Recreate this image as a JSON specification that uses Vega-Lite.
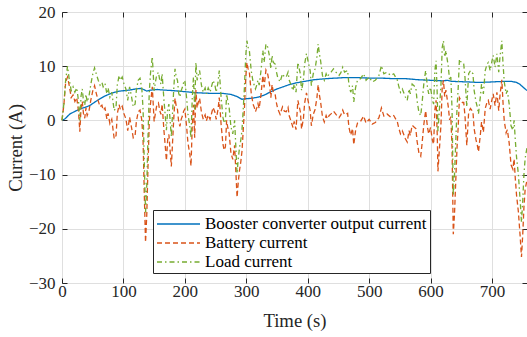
{
"$schema": "https://vega.github.io/schema/vega-lite/v6.json",
"width": 465, "height": 271,
"autosize": {"type": "none"},
"padding": {"left": 62, "top": 12, "right": 0, "bottom": 54},
"config": {
  "view": {"stroke": "#262626", "strokeWidth": 1},
  "font": "Liberation Serif",
  "axis": {"domain": false, "labelFlush": false, "gridColor": "#dfdfdf", "gridWidth": 1, "tickColor": "#262626", "tickSize": -5, "labelFont": "Liberation Serif", "labelFontSize": 17, "labelColor": "#262626", "titleFont": "Liberation Serif", "titleFontSize": 18.7, "titleFontWeight": "normal", "titleColor": "#262626"},
  "legend": {"orient": "none", "legendX": 91, "legendY": 198, "direction": "vertical", "fillColor": "white", "strokeColor": "#262626", "padding": 3, "symbolType": "M-1,0H3.3", "symbolSize": 400, "symbolStrokeWidth": 1.5, "labelFont": "Liberation Serif", "labelFontSize": 17, "labelColor": "black", "labelOffset": 27, "rowPadding": 0, "labelLimit": 0}
},
"layer": [
{
"data": {"values": [
{"t":0,"s":"b","v":0},{"t":5,"s":"b","v":0.3},{"t":13,"s":"b","v":1.2},{"t":20,"s":"b","v":1.6},{"t":29,"s":"b","v":2.1},{"t":40,"s":"b","v":2.5},{"t":46,"s":"b","v":2.8},{"t":55,"s":"b","v":3.5},{"t":62,"s":"b","v":4.0},{"t":70,"s":"b","v":4.5},{"t":78,"s":"b","v":4.9},{"t":86,"s":"b","v":5.2},{"t":94,"s":"b","v":5.4},{"t":110,"s":"b","v":5.6},{"t":120,"s":"b","v":5.8},{"t":128,"s":"b","v":5.9},{"t":133,"s":"b","v":5.7},{"t":138,"s":"b","v":5.4},{"t":145,"s":"b","v":5.6},{"t":155,"s":"b","v":5.7},{"t":165,"s":"b","v":5.6},{"t":180,"s":"b","v":5.5},{"t":200,"s":"b","v":5.3},{"t":220,"s":"b","v":5.1},{"t":240,"s":"b","v":5.0},{"t":260,"s":"b","v":5.0},{"t":275,"s":"b","v":4.8},{"t":285,"s":"b","v":4.4},{"t":293,"s":"b","v":3.9},{"t":300,"s":"b","v":4.0},{"t":310,"s":"b","v":4.1},{"t":320,"s":"b","v":4.3},{"t":330,"s":"b","v":4.7},{"t":340,"s":"b","v":5.3},{"t":350,"s":"b","v":5.8},{"t":360,"s":"b","v":6.2},{"t":370,"s":"b","v":6.6},{"t":380,"s":"b","v":6.9},{"t":390,"s":"b","v":7.1},{"t":400,"s":"b","v":7.3},{"t":410,"s":"b","v":7.5},{"t":420,"s":"b","v":7.6},{"t":430,"s":"b","v":7.7},{"t":445,"s":"b","v":7.8},{"t":460,"s":"b","v":7.9},{"t":480,"s":"b","v":7.9},{"t":500,"s":"b","v":7.8},{"t":520,"s":"b","v":7.8},{"t":540,"s":"b","v":7.7},{"t":560,"s":"b","v":7.7},{"t":580,"s":"b","v":7.5},{"t":600,"s":"b","v":7.4},{"t":620,"s":"b","v":7.3},{"t":628,"s":"b","v":7.4},{"t":635,"s":"b","v":7.2},{"t":660,"s":"b","v":7.1},{"t":680,"s":"b","v":7.0},{"t":700,"s":"b","v":7.1},{"t":720,"s":"b","v":7.2},{"t":732,"s":"b","v":7.2},{"t":740,"s":"b","v":7.0},{"t":745,"s":"b","v":6.7},{"t":750,"s":"b","v":6.2},{"t":757,"s":"b","v":5.5},
{"t":0,"s":"i","v":0},{"t":3,"s":"i","v":2.8},{"t":6,"s":"i","v":7.1},{"t":9,"s":"i","v":8},{"t":12,"s":"i","v":6.3},{"t":15,"s":"i","v":4.2},{"t":18,"s":"i","v":4.7},{"t":21,"s":"i","v":3.5},{"t":24,"s":"i","v":4.2},{"t":27,"s":"i","v":1.5},{"t":29,"s":"i","v":-2.1},{"t":31,"s":"i","v":2.3},{"t":33,"s":"i","v":3.5},{"t":35,"s":"i","v":1.2},{"t":37,"s":"i","v":0.4},{"t":39,"s":"i","v":2.3},{"t":41,"s":"i","v":0.9},{"t":44,"s":"i","v":1.8},{"t":47,"s":"i","v":3.8},{"t":50,"s":"i","v":5.4},{"t":53,"s":"i","v":6.4},{"t":56,"s":"i","v":4.9},{"t":59,"s":"i","v":3.6},{"t":62,"s":"i","v":2.5},{"t":65,"s":"i","v":2.8},{"t":67,"s":"i","v":1.9},{"t":70,"s":"i","v":2.3},{"t":73,"s":"i","v":0.3},{"t":75,"s":"i","v":1.3},{"t":78,"s":"i","v":-0.6},{"t":81,"s":"i","v":0.2},{"t":85,"s":"i","v":-3.4},{"t":88,"s":"i","v":-2.8},{"t":90,"s":"i","v":1.2},{"t":93,"s":"i","v":2.9},{"t":95,"s":"i","v":2},{"t":98,"s":"i","v":2.6},{"t":101,"s":"i","v":1.2},{"t":104,"s":"i","v":0.3},{"t":107,"s":"i","v":-1.9},{"t":110,"s":"i","v":0.6},{"t":113,"s":"i","v":-1.2},{"t":116,"s":"i","v":-3.2},{"t":119,"s":"i","v":-2.8},{"t":121,"s":"i","v":-0.3},{"t":124,"s":"i","v":1.6},{"t":127,"s":"i","v":1.9},{"t":130,"s":"i","v":0},{"t":132,"s":"i","v":-3.8},{"t":134,"s":"i","v":-13.7},{"t":136,"s":"i","v":-22.5},{"t":138,"s":"i","v":-17.4},{"t":140,"s":"i","v":-8.5},{"t":142,"s":"i","v":-0.5},{"t":144,"s":"i","v":3},{"t":147,"s":"i","v":6.2},{"t":150,"s":"i","v":-0.2},{"t":152,"s":"i","v":1.3},{"t":154,"s":"i","v":2.6},{"t":157,"s":"i","v":3.2},{"t":159,"s":"i","v":1.9},{"t":161,"s":"i","v":1.1},{"t":163,"s":"i","v":3},{"t":166,"s":"i","v":-1.9},{"t":168,"s":"i","v":-4.6},{"t":170,"s":"i","v":-7.4},{"t":172,"s":"i","v":-3.6},{"t":174,"s":"i","v":-2.6},{"t":176,"s":"i","v":-5.5},{"t":178,"s":"i","v":-8.5},{"t":180,"s":"i","v":-4},{"t":182,"s":"i","v":0.5},{"t":184,"s":"i","v":4.1},{"t":186,"s":"i","v":2.6},{"t":188,"s":"i","v":2},{"t":190,"s":"i","v":-0.4},{"t":192,"s":"i","v":-1.1},{"t":194,"s":"i","v":0.2},{"t":196,"s":"i","v":0.8},{"t":198,"s":"i","v":1.7},{"t":200,"s":"i","v":2.1},{"t":203,"s":"i","v":-1.3},{"t":205,"s":"i","v":-4.1},{"t":208,"s":"i","v":-6.2},{"t":210,"s":"i","v":-8.4},{"t":212,"s":"i","v":-1.2},{"t":214,"s":"i","v":2.9},{"t":216,"s":"i","v":-3.2},{"t":218,"s":"i","v":5.6},{"t":220,"s":"i","v":2.3},{"t":222,"s":"i","v":3.4},{"t":224,"s":"i","v":4.1},{"t":227,"s":"i","v":1.5},{"t":230,"s":"i","v":0.2},{"t":233,"s":"i","v":1},{"t":235,"s":"i","v":-0.1},{"t":238,"s":"i","v":1},{"t":241,"s":"i","v":0.2},{"t":244,"s":"i","v":1.5},{"t":246,"s":"i","v":2.4},{"t":249,"s":"i","v":1.5},{"t":251,"s":"i","v":0.2},{"t":254,"s":"i","v":2},{"t":256,"s":"i","v":4.2},{"t":259,"s":"i","v":-0.7},{"t":262,"s":"i","v":-4.4},{"t":264,"s":"i","v":-5.5},{"t":266,"s":"i","v":-4.9},{"t":268,"s":"i","v":0},{"t":270,"s":"i","v":-1.4},{"t":272,"s":"i","v":-2.3},{"t":275,"s":"i","v":-6},{"t":278,"s":"i","v":-7.2},{"t":281,"s":"i","v":-4.6},{"t":283,"s":"i","v":-9.4},{"t":285,"s":"i","v":-14.2},{"t":287,"s":"i","v":-11.3},{"t":289,"s":"i","v":-9.2},{"t":291,"s":"i","v":-7.7},{"t":293,"s":"i","v":-5.7},{"t":295,"s":"i","v":-1.9},{"t":297,"s":"i","v":2.2},{"t":299,"s":"i","v":7.7},{"t":301,"s":"i","v":10.7},{"t":303,"s":"i","v":9.5},{"t":305,"s":"i","v":8.9},{"t":308,"s":"i","v":5.1},{"t":311,"s":"i","v":3},{"t":313,"s":"i","v":2.4},{"t":315,"s":"i","v":1.6},{"t":317,"s":"i","v":2.3},{"t":319,"s":"i","v":3.1},{"t":321,"s":"i","v":2.2},{"t":324,"s":"i","v":4.8},{"t":327,"s":"i","v":8.3},{"t":329,"s":"i","v":6.1},{"t":332,"s":"i","v":9.3},{"t":335,"s":"i","v":8.5},{"t":338,"s":"i","v":6.5},{"t":340,"s":"i","v":4.2},{"t":342,"s":"i","v":6.6},{"t":344,"s":"i","v":5.2},{"t":347,"s":"i","v":4.8},{"t":349,"s":"i","v":3.3},{"t":351,"s":"i","v":2.2},{"t":355,"s":"i","v":1.1},{"t":359,"s":"i","v":2.5},{"t":362,"s":"i","v":1.7},{"t":365,"s":"i","v":1.6},{"t":368,"s":"i","v":2.4},{"t":370,"s":"i","v":0.8},{"t":373,"s":"i","v":-0.2},{"t":376,"s":"i","v":-1.3},{"t":378,"s":"i","v":-0.2},{"t":381,"s":"i","v":-1.7},{"t":384,"s":"i","v":3.7},{"t":388,"s":"i","v":1.6},{"t":390,"s":"i","v":-1.6},{"t":393,"s":"i","v":0.3},{"t":395,"s":"i","v":3.2},{"t":398,"s":"i","v":5.1},{"t":401,"s":"i","v":3.4},{"t":404,"s":"i","v":1.8},{"t":406,"s":"i","v":-1},{"t":409,"s":"i","v":1.1},{"t":412,"s":"i","v":2},{"t":415,"s":"i","v":4.2},{"t":417,"s":"i","v":6.6},{"t":419,"s":"i","v":4.7},{"t":421,"s":"i","v":3.4},{"t":424,"s":"i","v":0.7},{"t":427,"s":"i","v":-0.3},{"t":430,"s":"i","v":0.9},{"t":432,"s":"i","v":0.3},{"t":435,"s":"i","v":0.9},{"t":438,"s":"i","v":1.2},{"t":442,"s":"i","v":1.7},{"t":446,"s":"i","v":1.1},{"t":451,"s":"i","v":0.5},{"t":454,"s":"i","v":1},{"t":457,"s":"i","v":1.9},{"t":460,"s":"i","v":1},{"t":465,"s":"i","v":1.3},{"t":467,"s":"i","v":-1.2},{"t":470,"s":"i","v":-2.7},{"t":473,"s":"i","v":-1.5},{"t":475,"s":"i","v":-4.5},{"t":478,"s":"i","v":-1.8},{"t":481,"s":"i","v":-0.5},{"t":486,"s":"i","v":-0.2},{"t":491,"s":"i","v":0.8},{"t":495,"s":"i","v":-0.5},{"t":500,"s":"i","v":0.2},{"t":505,"s":"i","v":-0.7},{"t":510,"s":"i","v":-0.4},{"t":516,"s":"i","v":0.5},{"t":520,"s":"i","v":2.3},{"t":524,"s":"i","v":0.8},{"t":529,"s":"i","v":1.2},{"t":535,"s":"i","v":0.6},{"t":540,"s":"i","v":0.9},{"t":546,"s":"i","v":-0.3},{"t":548,"s":"i","v":-1.3},{"t":551,"s":"i","v":-2.5},{"t":554,"s":"i","v":-1.9},{"t":557,"s":"i","v":-2.8},{"t":559,"s":"i","v":-3.4},{"t":562,"s":"i","v":-4},{"t":565,"s":"i","v":-1.9},{"t":567,"s":"i","v":-2.8},{"t":570,"s":"i","v":-0.9},{"t":573,"s":"i","v":-1.2},{"t":576,"s":"i","v":-1.5},{"t":578,"s":"i","v":-3.8},{"t":581,"s":"i","v":-6},{"t":584,"s":"i","v":-6.6},{"t":586,"s":"i","v":-4.5},{"t":589,"s":"i","v":-0.8},{"t":592,"s":"i","v":1.8},{"t":595,"s":"i","v":-1.3},{"t":597,"s":"i","v":-2.5},{"t":600,"s":"i","v":-1.3},{"t":603,"s":"i","v":-3.7},{"t":605,"s":"i","v":-4.4},{"t":607,"s":"i","v":1.9},{"t":609,"s":"i","v":3.7},{"t":611,"s":"i","v":-3.1},{"t":612,"s":"i","v":-9.4},{"t":615,"s":"i","v":-4.3},{"t":617,"s":"i","v":-0.6},{"t":619,"s":"i","v":6.2},{"t":621,"s":"i","v":7.4},{"t":623,"s":"i","v":4.4},{"t":625,"s":"i","v":5.6},{"t":629,"s":"i","v":2.4},{"t":631,"s":"i","v":0.1},{"t":633,"s":"i","v":0.7},{"t":635,"s":"i","v":-5.2},{"t":637,"s":"i","v":-21},{"t":639,"s":"i","v":-17.2},{"t":641,"s":"i","v":-11.2},{"t":643,"s":"i","v":-5.2},{"t":645,"s":"i","v":-1.2},{"t":647,"s":"i","v":4.2},{"t":650,"s":"i","v":3.6},{"t":652,"s":"i","v":3.3},{"t":654,"s":"i","v":3.3},{"t":656,"s":"i","v":0.9},{"t":659,"s":"i","v":-4.6},{"t":662,"s":"i","v":1.5},{"t":665,"s":"i","v":2.2},{"t":669,"s":"i","v":1.6},{"t":671,"s":"i","v":-1.6},{"t":674,"s":"i","v":-3.6},{"t":676,"s":"i","v":-4.5},{"t":678,"s":"i","v":-5.8},{"t":681,"s":"i","v":-2.7},{"t":683,"s":"i","v":-0.3},{"t":686,"s":"i","v":-2.2},{"t":689,"s":"i","v":2.2},{"t":692,"s":"i","v":3.4},{"t":694,"s":"i","v":3.7},{"t":697,"s":"i","v":2.1},{"t":700,"s":"i","v":3.9},{"t":702,"s":"i","v":4.9},{"t":705,"s":"i","v":2.7},{"t":708,"s":"i","v":5.2},{"t":711,"s":"i","v":1.8},{"t":713,"s":"i","v":4.6},{"t":716,"s":"i","v":7.5},{"t":718,"s":"i","v":3.2},{"t":720,"s":"i","v":-0.1},{"t":723,"s":"i","v":-2.3},{"t":725,"s":"i","v":-1.7},{"t":728,"s":"i","v":-4.2},{"t":731,"s":"i","v":-8.2},{"t":734,"s":"i","v":-9},{"t":736,"s":"i","v":-7.1},{"t":738,"s":"i","v":-10.8},{"t":740,"s":"i","v":-13.8},{"t":743,"s":"i","v":-16.9},{"t":746,"s":"i","v":-21.6},{"t":748,"s":"i","v":-25.2},{"t":750,"s":"i","v":-21.2},{"t":752,"s":"i","v":-16},{"t":754,"s":"i","v":-12.7},{"t":757,"s":"i","v":-11},
{"t":0,"s":"l","v":0},{"t":3,"s":"l","v":3},{"t":6,"s":"l","v":7.5},{"t":9,"s":"l","v":10},{"t":12,"s":"l","v":7.4},{"t":15,"s":"l","v":5.5},{"t":18,"s":"l","v":6.2},{"t":21,"s":"l","v":5.2},{"t":24,"s":"l","v":6},{"t":27,"s":"l","v":3.5},{"t":29,"s":"l","v":0},{"t":31,"s":"l","v":4.5},{"t":33,"s":"l","v":5.8},{"t":35,"s":"l","v":3.5},{"t":37,"s":"l","v":2.8},{"t":39,"s":"l","v":4.8},{"t":41,"s":"l","v":3.4},{"t":44,"s":"l","v":4.5},{"t":47,"s":"l","v":6.7},{"t":50,"s":"l","v":8.5},{"t":53,"s":"l","v":9.7},{"t":56,"s":"l","v":8.5},{"t":59,"s":"l","v":7.4},{"t":62,"s":"l","v":6.5},{"t":65,"s":"l","v":7},{"t":67,"s":"l","v":6.2},{"t":70,"s":"l","v":6.8},{"t":73,"s":"l","v":4.9},{"t":75,"s":"l","v":6},{"t":78,"s":"l","v":4.3},{"t":81,"s":"l","v":5.2},{"t":85,"s":"l","v":1.8},{"t":88,"s":"l","v":2.5},{"t":90,"s":"l","v":6.5},{"t":93,"s":"l","v":8.3},{"t":95,"s":"l","v":7.4},{"t":98,"s":"l","v":8},{"t":101,"s":"l","v":6.7},{"t":104,"s":"l","v":5.8},{"t":107,"s":"l","v":3.7},{"t":110,"s":"l","v":6.2},{"t":113,"s":"l","v":4.5},{"t":116,"s":"l","v":2.5},{"t":119,"s":"l","v":3},{"t":121,"s":"l","v":5.5},{"t":124,"s":"l","v":7.4},{"t":127,"s":"l","v":7.8},{"t":130,"s":"l","v":5.8},{"t":132,"s":"l","v":2},{"t":134,"s":"l","v":-8},{"t":136,"s":"l","v":-17},{"t":138,"s":"l","v":-12},{"t":140,"s":"l","v":-3},{"t":142,"s":"l","v":5},{"t":144,"s":"l","v":8.6},{"t":147,"s":"l","v":11.8},{"t":150,"s":"l","v":5.5},{"t":152,"s":"l","v":7},{"t":154,"s":"l","v":8.3},{"t":157,"s":"l","v":8.9},{"t":159,"s":"l","v":7.5},{"t":161,"s":"l","v":6.7},{"t":163,"s":"l","v":8.6},{"t":166,"s":"l","v":3.7},{"t":168,"s":"l","v":1},{"t":170,"s":"l","v":-1.8},{"t":172,"s":"l","v":2},{"t":174,"s":"l","v":3},{"t":176,"s":"l","v":0},{"t":178,"s":"l","v":-3},{"t":180,"s":"l","v":1.5},{"t":182,"s":"l","v":6},{"t":184,"s":"l","v":9.5},{"t":186,"s":"l","v":8},{"t":188,"s":"l","v":7.4},{"t":190,"s":"l","v":5},{"t":192,"s":"l","v":4.3},{"t":194,"s":"l","v":5.5},{"t":196,"s":"l","v":6.1},{"t":198,"s":"l","v":7},{"t":200,"s":"l","v":7.4},{"t":203,"s":"l","v":4},{"t":205,"s":"l","v":1.2},{"t":208,"s":"l","v":-1},{"t":210,"s":"l","v":-3.2},{"t":212,"s":"l","v":4},{"t":214,"s":"l","v":8},{"t":216,"s":"l","v":2},{"t":218,"s":"l","v":10.7},{"t":220,"s":"l","v":7.4},{"t":222,"s":"l","v":8.5},{"t":224,"s":"l","v":9.2},{"t":227,"s":"l","v":6.5},{"t":230,"s":"l","v":5.2},{"t":233,"s":"l","v":6},{"t":235,"s":"l","v":4.9},{"t":238,"s":"l","v":6},{"t":241,"s":"l","v":5.2},{"t":244,"s":"l","v":6.5},{"t":246,"s":"l","v":7.4},{"t":249,"s":"l","v":6.5},{"t":251,"s":"l","v":5.2},{"t":254,"s":"l","v":7},{"t":256,"s":"l","v":9.2},{"t":259,"s":"l","v":4.3},{"t":262,"s":"l","v":0.6},{"t":264,"s":"l","v":-0.5},{"t":266,"s":"l","v":0},{"t":268,"s":"l","v":4.9},{"t":270,"s":"l","v":3.5},{"t":272,"s":"l","v":2.5},{"t":275,"s":"l","v":-1.2},{"t":278,"s":"l","v":-2.5},{"t":281,"s":"l","v":0},{"t":283,"s":"l","v":-4.9},{"t":285,"s":"l","v":-9.8},{"t":287,"s":"l","v":-7},{"t":289,"s":"l","v":-5},{"t":291,"s":"l","v":-3.7},{"t":293,"s":"l","v":-1.8},{"t":295,"s":"l","v":2},{"t":297,"s":"l","v":6.1},{"t":299,"s":"l","v":11.7},{"t":301,"s":"l","v":14.7},{"t":303,"s":"l","v":13.5},{"t":305,"s":"l","v":12.9},{"t":308,"s":"l","v":9.2},{"t":311,"s":"l","v":7.1},{"t":313,"s":"l","v":6.5},{"t":315,"s":"l","v":5.8},{"t":317,"s":"l","v":6.5},{"t":319,"s":"l","v":7.4},{"t":321,"s":"l","v":6.5},{"t":324,"s":"l","v":9.2},{"t":327,"s":"l","v":12.9},{"t":329,"s":"l","v":10.7},{"t":332,"s":"l","v":14.1},{"t":335,"s":"l","v":13.5},{"t":338,"s":"l","v":11.7},{"t":340,"s":"l","v":9.5},{"t":342,"s":"l","v":12},{"t":344,"s":"l","v":10.7},{"t":347,"s":"l","v":10.4},{"t":349,"s":"l","v":9},{"t":351,"s":"l","v":8},{"t":355,"s":"l","v":7.1},{"t":359,"s":"l","v":8.6},{"t":362,"s":"l","v":8},{"t":365,"s":"l","v":8},{"t":368,"s":"l","v":8.9},{"t":370,"s":"l","v":7.4},{"t":373,"s":"l","v":6.5},{"t":376,"s":"l","v":5.5},{"t":378,"s":"l","v":6.7},{"t":381,"s":"l","v":5.2},{"t":384,"s":"l","v":10.7},{"t":388,"s":"l","v":8.6},{"t":390,"s":"l","v":5.5},{"t":393,"s":"l","v":7.4},{"t":395,"s":"l","v":10.4},{"t":398,"s":"l","v":12.3},{"t":401,"s":"l","v":10.7},{"t":404,"s":"l","v":9.2},{"t":406,"s":"l","v":6.4},{"t":409,"s":"l","v":8.6},{"t":412,"s":"l","v":9.5},{"t":415,"s":"l","v":11.7},{"t":417,"s":"l","v":14.1},{"t":419,"s":"l","v":12.3},{"t":421,"s":"l","v":11},{"t":424,"s":"l","v":8.3},{"t":427,"s":"l","v":7.4},{"t":430,"s":"l","v":8.6},{"t":432,"s":"l","v":8},{"t":435,"s":"l","v":8.6},{"t":438,"s":"l","v":8.9},{"t":442,"s":"l","v":9.5},{"t":446,"s":"l","v":8.9},{"t":451,"s":"l","v":8.3},{"t":454,"s":"l","v":8.8},{"t":457,"s":"l","v":9.8},{"t":460,"s":"l","v":8.9},{"t":465,"s":"l","v":9.2},{"t":467,"s":"l","v":6.7},{"t":470,"s":"l","v":5.2},{"t":473,"s":"l","v":6.4},{"t":475,"s":"l","v":3.4},{"t":478,"s":"l","v":6.1},{"t":481,"s":"l","v":7.4},{"t":486,"s":"l","v":7.7},{"t":491,"s":"l","v":8.6},{"t":495,"s":"l","v":7.4},{"t":500,"s":"l","v":8},{"t":505,"s":"l","v":7.1},{"t":510,"s":"l","v":7.4},{"t":516,"s":"l","v":8.3},{"t":520,"s":"l","v":10.1},{"t":524,"s":"l","v":8.6},{"t":529,"s":"l","v":8.9},{"t":535,"s":"l","v":8.3},{"t":540,"s":"l","v":8.6},{"t":546,"s":"l","v":7.4},{"t":548,"s":"l","v":6.4},{"t":551,"s":"l","v":5.2},{"t":554,"s":"l","v":5.8},{"t":557,"s":"l","v":4.9},{"t":559,"s":"l","v":4.3},{"t":562,"s":"l","v":3.7},{"t":565,"s":"l","v":5.8},{"t":567,"s":"l","v":4.9},{"t":570,"s":"l","v":6.7},{"t":573,"s":"l","v":6.4},{"t":576,"s":"l","v":6.1},{"t":578,"s":"l","v":3.7},{"t":581,"s":"l","v":1.5},{"t":584,"s":"l","v":0.9},{"t":586,"s":"l","v":3},{"t":589,"s":"l","v":6.7},{"t":592,"s":"l","v":9.2},{"t":595,"s":"l","v":6.1},{"t":597,"s":"l","v":4.9},{"t":600,"s":"l","v":6.1},{"t":603,"s":"l","v":3.7},{"t":605,"s":"l","v":3},{"t":607,"s":"l","v":9.2},{"t":609,"s":"l","v":11},{"t":611,"s":"l","v":4.3},{"t":612,"s":"l","v":-2},{"t":615,"s":"l","v":3},{"t":617,"s":"l","v":6.7},{"t":619,"s":"l","v":13.5},{"t":621,"s":"l","v":14.7},{"t":623,"s":"l","v":11.7},{"t":625,"s":"l","v":12.9},{"t":629,"s":"l","v":9.8},{"t":631,"s":"l","v":7.4},{"t":633,"s":"l","v":8},{"t":635,"s":"l","v":2},{"t":637,"s":"l","v":-13.8},{"t":639,"s":"l","v":-10},{"t":641,"s":"l","v":-4},{"t":643,"s":"l","v":2},{"t":645,"s":"l","v":6},{"t":647,"s":"l","v":11.3},{"t":650,"s":"l","v":10.7},{"t":652,"s":"l","v":10.4},{"t":654,"s":"l","v":10.4},{"t":656,"s":"l","v":8},{"t":659,"s":"l","v":2.5},{"t":662,"s":"l","v":8.6},{"t":665,"s":"l","v":9.2},{"t":669,"s":"l","v":8.6},{"t":671,"s":"l","v":5.5},{"t":674,"s":"l","v":3.4},{"t":676,"s":"l","v":2.5},{"t":678,"s":"l","v":1.2},{"t":681,"s":"l","v":4.3},{"t":683,"s":"l","v":6.7},{"t":686,"s":"l","v":4.9},{"t":689,"s":"l","v":9.2},{"t":692,"s":"l","v":10.4},{"t":694,"s":"l","v":10.7},{"t":697,"s":"l","v":9.2},{"t":700,"s":"l","v":11},{"t":702,"s":"l","v":12},{"t":705,"s":"l","v":9.8},{"t":708,"s":"l","v":12.3},{"t":711,"s":"l","v":8.9},{"t":713,"s":"l","v":11.7},{"t":716,"s":"l","v":14.7},{"t":718,"s":"l","v":10.4},{"t":720,"s":"l","v":7.1},{"t":723,"s":"l","v":4.9},{"t":725,"s":"l","v":5.5},{"t":728,"s":"l","v":3},{"t":731,"s":"l","v":-1},{"t":734,"s":"l","v":-1.8},{"t":736,"s":"l","v":0},{"t":738,"s":"l","v":-3.7},{"t":740,"s":"l","v":-6.8},{"t":743,"s":"l","v":-10},{"t":746,"s":"l","v":-15},{"t":748,"s":"l","v":-18.8},{"t":750,"s":"l","v":-15},{"t":752,"s":"l","v":-10},{"t":754,"s":"l","v":-7},{"t":757,"s":"l","v":-5}
]},
"mark": {"type": "line", "strokeWidth": 1.3},
"encoding": {
  "x": {"field": "t", "type": "quantitative", "scale": {"domain": [0, 757], "nice": false, "zero": false}, "axis": {"values": [0,100,200,300,400,500,600,700], "title": "Time (s)", "labelPadding": 5, "titlePadding": 12}},
  "y": {"field": "v", "type": "quantitative", "scale": {"domain": [-30, 20], "nice": false}, "axis": {"values": [-30,-20,-10,0,10,20], "title": "Current (A)", "labelPadding": 12, "titlePadding": 3}},
  "color": {"field": "s", "type": "nominal", "scale": {"domain": ["b","i","l"], "range": ["#0072BD","#D95319","#77AC30"]}, "legend": {"title": null, "labelExpr": "datum.label == 'b' ? 'Booster converter output current' : datum.label == 'i' ? 'Battery current' : 'Load current'"}},
  "strokeDash": {"field": "s", "type": "nominal", "scale": {"domain": ["b","i","l"], "range": [[1,0],[5,3],[5,3,1.5,3]]}, "legend": {"title": null, "labelExpr": "datum.label == 'b' ? 'Booster converter output current' : datum.label == 'i' ? 'Battery current' : 'Load current'"}}
}
},
{
"data": {"values": [{"t": 0, "v": 0}]},
"mark": {"type": "point", "opacity": 0},
"encoding": {
  "x": {"field": "t", "type": "quantitative", "scale": {"domain": [0, 757], "nice": false, "zero": false}, "axis": {"orient": "top", "labels": false, "grid": false, "title": null, "values": [0,100,200,300,400,500,600,700]}},
  "y": {"field": "v", "type": "quantitative", "scale": {"domain": [-30, 20], "nice": false}, "axis": {"orient": "right", "labels": false, "grid": false, "title": null, "values": [-30,-20,-10,0,10,20]}}
}
}
],
"resolve": {"axis": {"x": "independent", "y": "independent"}}
}
